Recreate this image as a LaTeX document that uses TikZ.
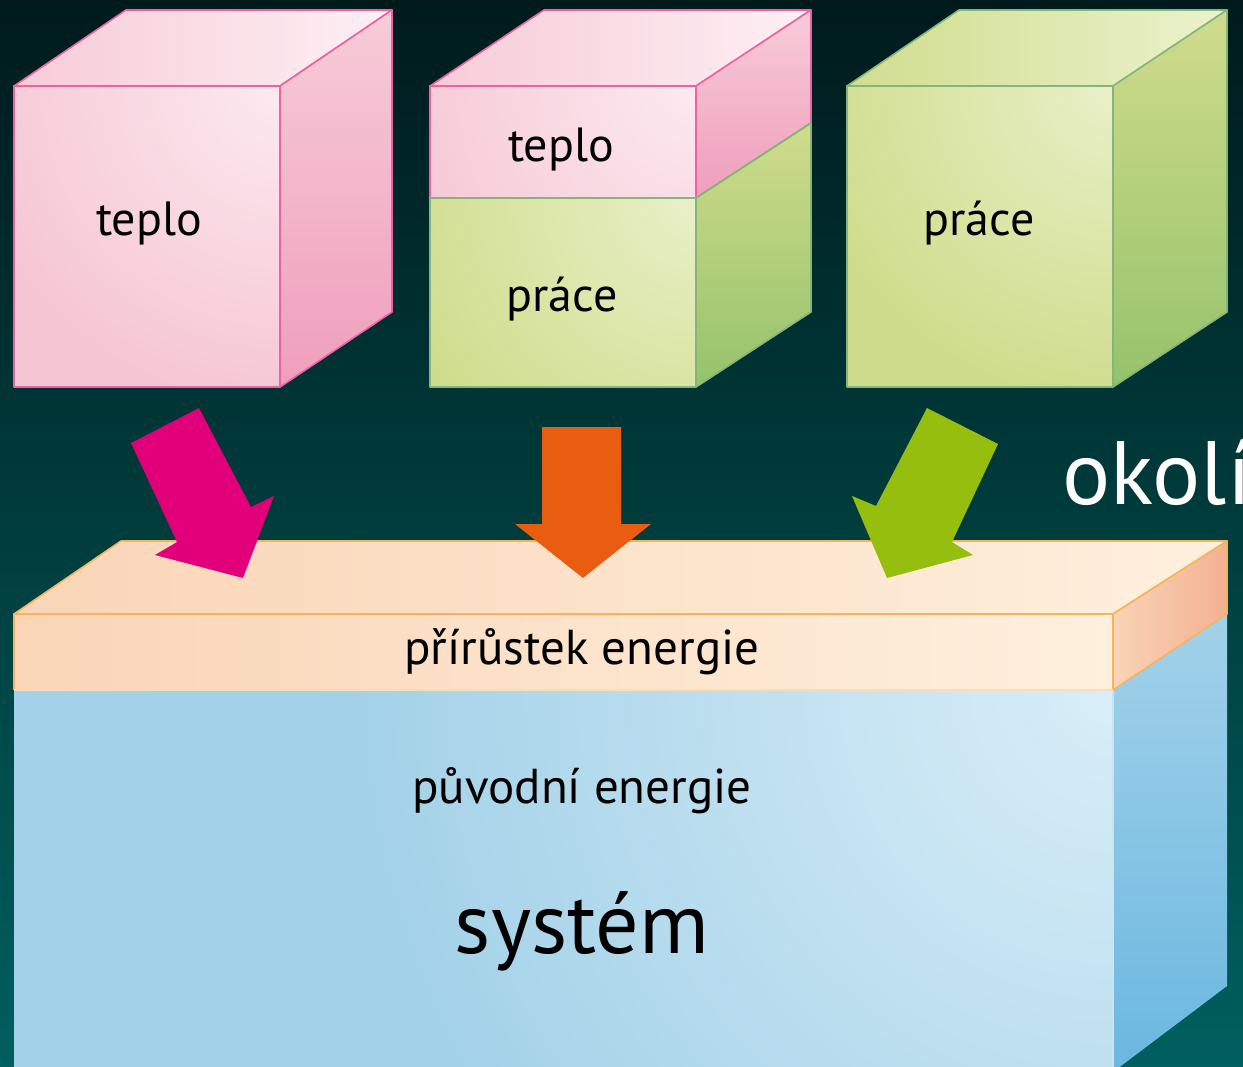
\documentclass[tikz,border=0pt]{standalone}
\usepackage{fontspec}
\setmainfont{PT Sans}
\definecolor{bgtop}{HTML}{001A1C}
\definecolor{bgmid}{HTML}{00484A}
\definecolor{bgbot}{HTML}{00605F}
\definecolor{pinkedge}{HTML}{E964A0}
\definecolor{pinkbase}{HTML}{F6C6D4}
\definecolor{pinkhi}{HTML}{FCEAF0}
\definecolor{pinktopL}{HTML}{F7CBD8}
\definecolor{pinktopR}{HTML}{FDF0F4}
\definecolor{pinkR1}{HTML}{F7CCD9}
\definecolor{pinkR2}{HTML}{EF9EBB}
\definecolor{greenedge}{HTML}{86B57C}
\definecolor{greenbase}{HTML}{CFDC8B}
\definecolor{greenhi}{HTML}{E9F0C8}
\definecolor{greentopL}{HTML}{D1DD8E}
\definecolor{greentopR}{HTML}{EBF2CD}
\definecolor{greenR1}{HTML}{D0DC8C}
\definecolor{greenR2}{HTML}{96C26C}
\definecolor{slabedge}{HTML}{F5B45A}
\definecolor{slabbase}{HTML}{FAD5B7}
\definecolor{slabhi}{HTML}{FEF0DE}
\definecolor{slabR1}{HTML}{FAD3B6}
\definecolor{slabR2}{HTML}{F3B192}
\definecolor{bluebase}{HTML}{A3D1E8}
\definecolor{bluehi}{HTML}{D9EEF8}
\definecolor{blueR1}{HTML}{A3D2EA}
\definecolor{blueR2}{HTML}{6AB7E0}
\definecolor{arrowpink}{HTML}{E1007A}
\definecolor{arroworange}{HTML}{E85D10}
\definecolor{arrowgreen}{HTML}{95BE0E}
\tikzset{
  pinkline/.style={draw=pinkedge, line width=1.6pt},
  greenline/.style={draw=greenedge, line width=1.6pt},
  slabline/.style={draw=slabedge, line width=1.6pt},
  boxlabel/.style={anchor=base, inner sep=0pt, text=black, font=\fontsize{48}{52}\selectfont},
  midlabel/.style={anchor=base, inner sep=0pt, text=black, font=\fontsize{49}{53}\selectfont},
}
\begin{document}
\begin{tikzpicture}[x=1pt,y=-1pt,line join=round]
\useasboundingbox (0,0) rectangle (1243,1067);
\shade[top color=bgtop, middle color=bgmid, bottom color=bgbot] (0,0) rectangle (1243,1067);

% ---------- cube 1 (teplo) ----------
\path[pinkline, left color=pinktopL, right color=pinktopR] (14,86) -- (126,10) -- (392,10) -- (280,86) -- cycle;
\path[pinkline, top color=pinkR1, bottom color=pinkR2] (280,86) -- (392,10) -- (392,312) -- (280,387) -- cycle;
\fill[pinkbase] (14,86) rectangle (280,387);
\begin{scope}
  \clip (14,86) rectangle (280,387);
  \shade[inner color=pinkhi, outer color=pinkbase] (280,86) circle (320);
\end{scope}
\draw[pinkline] (14,86) rectangle (280,387);
\node[boxlabel] (c1t) at (149,236) {teplo};

% ---------- cube 2 (teplo + práce) ----------
\path[pinkline, left color=pinktopL, right color=pinktopR] (430,86) -- (544,10) -- (811,10) -- (696,86) -- cycle;
\path[pinkline, top color=pinkR1, bottom color=pinkR2] (696,86) -- (811,10) -- (811,123) -- (696,198) -- cycle;
\path[greenline, top color=greenR1, bottom color=greenR2] (696,198) -- (811,123) -- (811,312) -- (696,387) -- cycle;
\fill[pinkbase] (430,86) rectangle (696,198);
\begin{scope}
  \clip (430,86) rectangle (696,198);
  \shade[inner color=pinkhi, outer color=pinkbase] (696,86) circle (320);
\end{scope}
\fill[greenbase] (430,198) rectangle (696,387);
\begin{scope}
  \clip (430,198) rectangle (696,387);
  \shade[inner color=greenhi, outer color=greenbase] (696,198) circle (320);
\end{scope}
\draw[pinkline] (430,198) -- (430,86) -- (696,86) -- (696,198);
\draw[greenline] (430,198) rectangle (696,387);
\draw[greenline] (696,198) -- (811,123);
\node[boxlabel] (c2t) at (561,162) {teplo};
\node[boxlabel] (c2p) at (562,312) {práce};

% ---------- cube 3 (práce) ----------
\path[greenline, left color=greentopL, middle color=greentopL!60!greentopR, right color=greentopR] (847,86) -- (959,10) -- (1227,10) -- (1113,86) -- cycle;
\path[greenline, top color=greenR1, bottom color=greenR2] (1113,86) -- (1227,10) -- (1227,312) -- (1113,387) -- cycle;
\fill[greenbase] (847,86) rectangle (1113,387);
\begin{scope}
  \clip (847,86) rectangle (1113,387);
  \shade[inner color=greenhi, outer color=greenbase] (1113,86) circle (320);
\end{scope}
\draw[greenline] (847,86) rectangle (1113,387);
\node[boxlabel] (c3p) at (979,236) {práce};

% ---------- system block ----------
\fill[bluebase] (14,690) rectangle (1113,1070);
\begin{scope}
  \clip (14,690) rectangle (1113,1070);
  \shade[inner color=bluehi, outer color=bluebase] (1113,690) circle (760);
\end{scope}
\path[top color=blueR1, bottom color=blueR2] (1113,690) -- (1227,614) -- (1227,986) -- (1113,1072) -- cycle;
\draw[draw=bluehi!70!bluebase, line width=1.5pt] (1113,690) -- (1113,1067);

% ---------- slab ----------
\path[slabline, left color=slabbase, middle color=slabbase!80!slabhi, right color=slabhi] (14,614) -- (121,541) -- (1227,541) -- (1113,614) -- cycle;
\path[slabline, left color=slabR1, right color=slabR2] (1113,614) -- (1227,541) -- (1227,614) -- (1113,690) -- cycle;
\path[left color=slabbase, middle color=slabbase, right color=slabhi] (14,614) rectangle (1113,690);
\draw[slabline] (14,690) -- (14,614) -- (1113,614) -- (1113,690);
\draw[draw=slabedge!45!white, line width=1.5pt] (14,690) -- (1113,690);

\node[midlabel] (gain) at (582,664) {přírůstek energie};
\node[midlabel] (orig) at (582,803) {původní energie};
\node[anchor=base, inner sep=0pt, text=black, font=\fontsize{86}{90}\selectfont] (sys) at (582,953) {systém};

% ---------- arrows ----------
\fill[arrowpink] (131,443) -- (199,408) -- (251,507) -- (274,496) -- (243,578) -- (155,555) -- (177,542) -- cycle;
\fill[arroworange] (542,427) -- (621,427) -- (621,524) -- (651,524) -- (583,578) -- (515,524) -- (542,524) -- cycle;
\fill[arrowgreen] (927,408) -- (998,444) -- (952,542) -- (973,555) -- (887,578) -- (852,496) -- (876,506) -- cycle;

\node[anchor=base west, inner sep=0pt, text=white, font=\fontsize{90}{94}\selectfont] (env) at (1062,504) {okolí};
\end{tikzpicture}
\end{document}
